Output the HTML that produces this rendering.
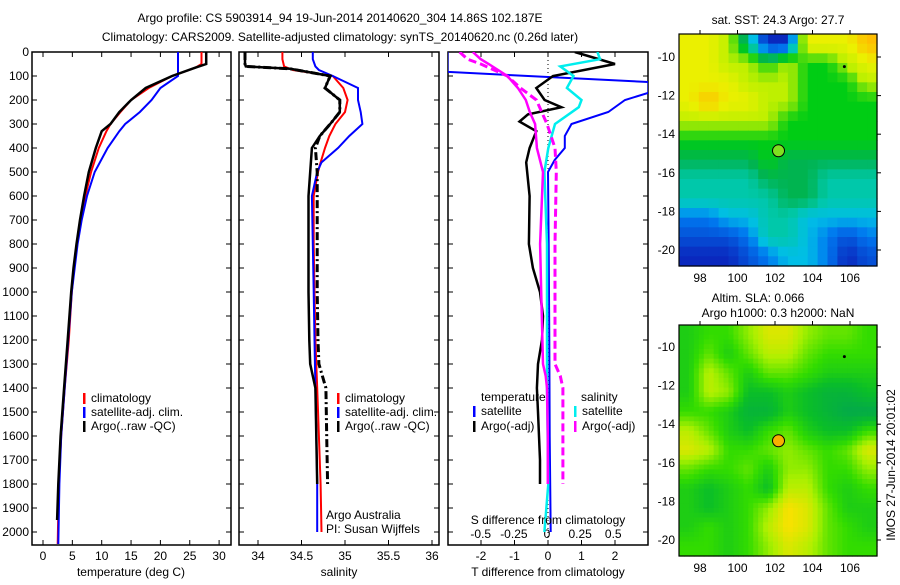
<!DOCTYPE html>
<html><head><meta charset="utf-8">
<style>
html,body{margin:0;padding:0;background:#fff;}
svg text{font-family:"Liberation Sans",sans-serif;font-size:12px;fill:#000;}
</style></head>
<body>
<svg id="fig" width="900" height="580" viewBox="0 0 900 580" xmlns="http://www.w3.org/2000/svg">
<text x="340" y="22" text-anchor="middle">Argo profile: CS 5903914_94 19-Jun-2014 20140620_304 14.86S 102.187E</text>
<text x="340" y="41" text-anchor="middle">Climatology: CARS2009. Satellite-adjusted climatology: synTS_20140620.nc (0.26d later)</text>
<g id="layer"></g>
</svg>
<script>
// ---------- data ----------
const depthT = [0,50,65,100,150,200,250,300,330,400,500,600,700,800,900,1000,1200,1400,1600,1800,1950];
const argoT  = [27.8,27.8,26,22,17.5,15,13,11.5,10,9,7.8,7,6.3,5.7,5.2,4.8,4.2,3.6,3.0,2.6,2.4];
const depthC = [0,50,65,100,150,200,250,300,330,400,500,600,700,800,900,1000,1200,1400,1600,1800,2050];
const climT  = [27,27,26,22,18,15,13.2,11.5,10.8,9.5,8.2,7.2,6.4,5.8,5.3,4.9,4.4,3.7,3.1,2.7,2.5];
const satT   = [23,23,23,23,20,18.5,16.5,14,13,11,8.8,7.5,6.6,5.9,5.4,4.9,4.3,3.7,3.1,2.8,2.6];
const depthS = [0,30,60,75,100,150,200,250,300,350,400,460,500,600,800,1000,1200,1400,1600,1800,2000];
const climS  = [34.28,34.28,34.3,34.4,34.86,34.98,35.03,35.0,34.89,34.82,34.77,34.72,34.69,34.64,34.64,34.65,34.66,34.68,34.7,34.72,34.73];
const satS   = [34.63,34.63,34.66,34.7,34.86,35.15,35.15,35.18,35.2,35.05,34.92,34.73,34.68,34.62,34.63,34.64,34.65,34.66,34.67,34.68,34.68];
const depthA = [0,50,60,70,100,150,200,250,300,350,400,500,600,800,1000,1200,1300,1400,1600,1800];
const argoS  = [33.85,33.85,33.86,34.37,34.83,34.77,34.94,34.94,34.83,34.71,34.62,34.6,34.58,34.58,34.58,34.59,34.6,34.66,34.67,34.68];
const argoSq = [33.85,33.85,33.86,34.37,34.83,34.77,34.94,34.94,34.83,34.71,34.66,34.68,34.68,34.68,34.68,34.69,34.7,34.78,34.79,34.8];
// differences
const dDepth = [0,50,100,150,200,230,260,290,330,400,460,600,800,900,1000,1100,1200,1300,1400,1500,1700,1800];
const dArgoT = [0.8,2,0.15,-0.35,-0.1,0.4,-0.6,-0.85,-0.35,-0.55,-0.65,-0.55,-0.57,-0.45,-0.24,-0.15,-0.18,-0.3,-0.33,-0.3,-0.24,-0.24];
const dsDepth = [0,60,83,125,170,200,250,300,350,400,450,500,800,1200,1600,2000];
const dSatT  = [-3,-3,-3,3,3,2.3,1.8,0.7,0.5,0.5,0.2,0,0.02,0.04,0.05,0.08];
const sDepth = [0,30,60,100,150,200,230,300,400,500,800,1400,1800,2000];
const dSatS  = [0.38,0.4,0.1,0.2,0.15,0.26,0.24,0.06,0.01,-0.02,0,0,0.01,-0.02];
const aDepth = [0,30,50,100,150,200,250,300,400,500,800,1000,1300,1350,1400,1600,1800];
const dArgoS = [-0.56,-0.5,-0.44,-0.3,-0.22,-0.16,-0.13,-0.09,-0.076,-0.03,-0.052,-0.044,-0.03,-0.01,0,0.006,0.006];
const dArgoSq= [-0.66,-0.6,-0.5,-0.3,-0.2,-0.08,-0.04,0,0.06,0.07,0.06,0.06,0.06,0.1,0.12,0.12,0.12];
// maps
const sstGrid = [
 [6,6,5,3,1,1,6,6,6,7],
 [6,6,5,5,4,5,4,4,5,6],
 [6,6,6,5,5,5,4,4,4,5],
 [6,7,6,6,5,5,4,4,4,4],
 [5,5,5,5,5,4,4,4,4,4],
 [4,4,4,4,4,4,4,4,4,4],
 [3.5,3.5,3.5,3.5,4,3.5,3.5,3.5,3.5,3.5],
 [3,3,3,3,3.5,3.5,3.5,3,3,3],
 [3,3,3,3,3,3.5,3.5,3,3,3],
 [2,2,2.5,2.5,3,3,2.5,2.5,2.5,2.5],
 [1.5,1.5,1.5,2,3,3,2.5,2,1.5,2],
 [1,1,1,1.5,2,2.5,2.5,2,1,1.5]];
const slaGrid = [
 [.4,.5,.5,.7,.9,.9,.7,.6,.6,.5],
 [.4,.6,.4,.6,.8,.8,.6,.5,.5,.5],
 [.4,.8,.6,.4,.6,.6,.5,.4,.4,.4],
 [.4,.8,.7,.3,.3,.4,.3,.2,.2,.3],
 [.5,.5,.4,.2,.2,.4,.3,.2,.1,.1],
 [.8,.6,.4,.3,.5,.6,.4,.3,.3,.5],
 [.9,.8,.5,.5,.6,.7,.6,.5,.6,.9],
 [.6,.5,.5,.6,.4,.7,.7,.5,.5,.7],
 [.4,.3,.4,.5,.3,.8,.8,.5,.4,.5],
 [.4,.3,.4,.5,.7,1,.9,.6,.4,.4],
 [.4,.5,.4,.5,.8,1,.9,.6,.5,.4],
 [.5,.5,.4,.5,.7,.9,.8,.6,.5,.5]];
const depthTicks = [0,100,200,300,400,500,600,700,800,900,1000,1100,1200,1300,1400,1500,1600,1700,1800,1900,2000];
const tempTicks = [0,5,10,15,20,25,30];
const salTicks = [34,34.5,35,35.5,36];
const tdTicks = [-2,-1,0,1,2];
const sdTicks = [-0.5,-0.25,0,0.25,0.5];
const latTicks = [-10,-12,-14,-16,-18,-20];
const lonTicks = [98,100,102,104,106];
const argoLon = 102.187, argoLat = -14.86;

// ---------- helpers ----------
const NS='http://www.w3.org/2000/svg';
const L=document.getElementById('layer');
function mk(tag,attrs,parent){const e=document.createElementNS(NS,tag);for(const k in attrs)e.setAttribute(k,attrs[k]);(parent||L).appendChild(e);return e;}
const yD = d => 52 + d*0.24;
const xT = t => 43 + t*5.87;
const xS = s => 258 + (s-34)*87;
const xTd = t => 548 + t*33.5;
const xSd = s => 547 + s*132.5;
const P=[[32,231],[239,439],[448,648]];
const TOP=52,BOT=545;

const defs=mk('defs',{});
P.forEach((p,i)=>{const c=mk('clipPath',{id:'clip'+i},defs);mk('rect',{x:p[0],y:TOP,width:p[1]-p[0],height:BOT-TOP},c);});

P.forEach((p,i)=>{
  const r=mk('rect',{x:p[0],y:TOP,width:p[1]-p[0],height:BOT-TOP,fill:'none',stroke:'#000','stroke-width':1.5});
  
  
  depthTicks.forEach(d=>{
    mk('line',{x1:p[0],x2:p[0]+5,y1:yD(d),y2:yD(d),stroke:'#000'});
    mk('line',{x1:p[1]-5,x2:p[1],y1:yD(d),y2:yD(d),stroke:'#000'});
  });
});
depthTicks.forEach(d=>{
  const t=mk('text',{x:29,y:yD(d)+4,'text-anchor':'end'});t.textContent=d;
  
  
});
function xticks(vals,fx,p,y){vals.forEach(v=>{
  mk('line',{x1:fx(v),x2:fx(v),y1:BOT,y2:BOT-5,stroke:'#000'});
  mk('line',{x1:fx(v),x2:fx(v),y1:TOP,y2:TOP+5,stroke:'#000'});
  const t=mk('text',{x:fx(v),y:y,'text-anchor':'middle'});t.textContent=v;
  
  
});}
xticks(tempTicks,xT,P[0],560);
xticks(salTicks,xS,P[1],560);
xticks(tdTicks,xTd,P[2],560);
sdTicks.forEach(v=>{const t=mk('text',{x:xSd(v),y:538,'text-anchor':'middle'});t.textContent=v;
  
  });

function line(ds,vs,fx,color,w,dash,clip,name){
  const pts=ds.map((d,i)=>fx(vs[i]).toFixed(1)+','+yD(d).toFixed(1)).join(' ');
  const e=mk('polyline',{points:pts,fill:'none',stroke:color,'stroke-width':w,'clip-path':'url(#clip'+clip+')'});
  if(dash)e.setAttribute('stroke-dasharray',dash);
  
  
}
line(depthC,climT,xT,'#f00',2,null,0,'clim-temp-line');
line(depthC,satT,xT,'#00f',2,null,0,'sat-temp-line');
line(depthT,argoT,xT,'#000',2.5,null,0,'argo-temp-line');
line(depthS,climS,xS,'#f00',2,null,1,'clim-sal-line');
line(depthS,satS,xS,'#00f',2,null,1,'sat-sal-line');
line(depthA,argoSq,xS,'#000',3,'8,3,2,3',1,'argo-raw-sal-line');
line(depthA,argoS,xS,'#000',2.5,null,1,'argo-sal-line');
mk('line',{x1:xTd(0),x2:xTd(0),y1:TOP,y2:BOT,stroke:'#000','stroke-dasharray':'1,3'});
line(dsDepth,dSatT,xTd,'#00f',2,null,2,'sat-temp-diff-line');
line(dDepth,dArgoT,xTd,'#000',2.5,null,2,'argo-temp-diff-line');
line(sDepth,dSatS,xSd,'#0ee',2.5,null,2,'sat-sal-diff-line');
line(aDepth,dArgoS,xSd,'#f0f',2.5,null,2,'argo-sal-diff-line');
line(aDepth,dArgoSq,xSd,'#f0f',3,'8,4',2,'argo-sal-diff-dashed-line');

function txt(s,x,y,name,anchor){const t=mk('text',{x:x,y:y});if(anchor)t.setAttribute('text-anchor',anchor);t.textContent=s;
  
  return t;}
function leg(x,y,color,label,name){mk('rect',{x:x,y:y-9,width:2.5,height:11,fill:color});txt(label,x+8,y,name);}
leg(83,402,'#f00','climatology','legend-climatology');
leg(83,416,'#00f','satellite-adj. clim.','legend-satellite');
leg(83,430,'#000','Argo(..raw -QC)','legend-argo');
leg(337,402,'#f00','climatology','legend2-climatology');
leg(337,416,'#00f','satellite-adj. clim.','legend2-satellite');
leg(337,430,'#000','Argo(..raw -QC)','legend2-argo');
txt('temperature',481,401,'legend-temperature-heading');
leg(473,415,'#00f','satellite','legend-temp-satellite');
leg(473,430,'#000','Argo(-adj)','legend-temp-argo');
txt('salinity',581,401,'legend-salinity-heading');
leg(574,415,'#0ee','satellite','legend-sal-satellite');
leg(574,430,'#f0f','Argo(-adj)','legend-sal-argo');
txt('Argo Australia',326,519,'credit-argo-australia');
txt('PI: Susan Wijffels',326,533,'credit-pi');
txt('S difference from climatology',548,524,'s-diff-axis-title','middle');
txt('temperature (deg C)',131,576,'x-axis-title-temperature','middle');
txt('salinity',339,576,'x-axis-title-salinity','middle');
txt('T difference from climatology',548,576,'x-axis-title-tdiff','middle');

// ---------- maps ----------
function hex(c){return '#'+c.map(v=>Math.round(v).toString(16).padStart(2,'0')).join('');}
function cmap(stops,v){
  if(v<=stops[0][0])return hex(stops[0][1]);
  for(let i=1;i<stops.length;i++){if(v<=stops[i][0]){const a=stops[i-1],b=stops[i],f=(v-a[0])/(b[0]-a[0]);
    return hex(a[1].map((c,k)=>c+(b[1][k]-c)*f));}}
  return hex(stops[stops.length-1][1]);
}
const sstStops=[[0,[0,0,140]],[1,[10,40,190]],[2,[0,120,240]],[2.5,[0,190,230]],[3,[0,200,170]],[3.5,[0,180,80]],[4,[0,205,20]],[5,[190,240,0]],[6,[235,240,0]],[7,[255,190,0]]];
const slaStops=[[0,[0,160,90]],[0.3,[10,190,40]],[0.5,[50,220,0]],[0.75,[170,240,0]],[1,[250,225,0]]];
function drawMap(grid,stops,x0,y0,w,h,lat10y,lat20y,marker,name,sub){
  const R=grid.length,C=grid[0].length,S=sub;
  const cw=w/(C*S),ch=h/(R*S);
  const g=mk('g',{});
  
  
  for(let r=0;r<R*S;r++)for(let c=0;c<C*S;c++){
    let fr=(r+0.5)/S-0.5,fc=(c+0.5)/S-0.5;
    fr=Math.max(0,Math.min(R-1,fr));fc=Math.max(0,Math.min(C-1,fc));
    const r0=Math.floor(fr),c0=Math.floor(fc),r1=Math.min(R-1,r0+1),c1=Math.min(C-1,c0+1),a=fr-r0,b=fc-c0;
    const v=grid[r0][c0]*(1-a)*(1-b)+grid[r0][c1]*(1-a)*b+grid[r1][c0]*a*(1-b)+grid[r1][c1]*a*b;
    mk('rect',{x:(x0+c*cw).toFixed(2),y:(y0+r*ch).toFixed(2),width:(cw+0.6).toFixed(2),height:(ch+0.6).toFixed(2),fill:cmap(stops,v)},g);
  }
  mk('rect',{x:x0,y:y0,width:w,height:h,fill:'none',stroke:'#000','stroke-width':1.2});
  const lonX=lon=>700+(lon-98)*18.75;
  const latY=lat=>lat10y+(-10-lat)*(lat20y-lat10y)/10;
  latTicks.forEach(l=>{mk('line',{x1:x0+w,x2:x0+w+4,y1:latY(l),y2:latY(l),stroke:'#000'});
    const t=mk('text',{x:x0-4,y:latY(l)+4,'text-anchor':'end'});t.textContent=l;
    
    });
  lonTicks.forEach(l=>{mk('line',{x1:lonX(l),x2:lonX(l),y1:y0,y2:y0-4,stroke:'#000'});
    const t=mk('text',{x:lonX(l),y:y0+h+16,'text-anchor':'middle'});t.textContent=l;
    
    });
  const m=mk('circle',{cx:lonX(argoLon),cy:latY(argoLat),r:6,fill:marker,stroke:'#000','stroke-width':1});
  
  
  mk('circle',{cx:lonX(105.7),cy:latY(-10.5),r:1.5,fill:'#000'});
}
drawMap(sstGrid,sstStops,679,34,198,232,57,250,'#80e020','sst-map',2);
drawMap(slaGrid,slaStops,679,325,198,231,347,540,'#f8b000','sla-map',4);
txt('sat. SST: 24.3 Argo: 27.7',778,24,'sst-map-title','middle');
txt('Altim. SLA: 0.066',758,302,'sla-map-title','middle');
txt('Argo h1000: 0.3 h2000: NaN',778,317,'sla-map-subtitle','middle');
const im=txt('IMOS 27-Jun-2014 20:01:02',0,0,'imos-timestamp','middle');
im.setAttribute('transform','translate(895,465) rotate(-90)');
</script>
</body></html>
